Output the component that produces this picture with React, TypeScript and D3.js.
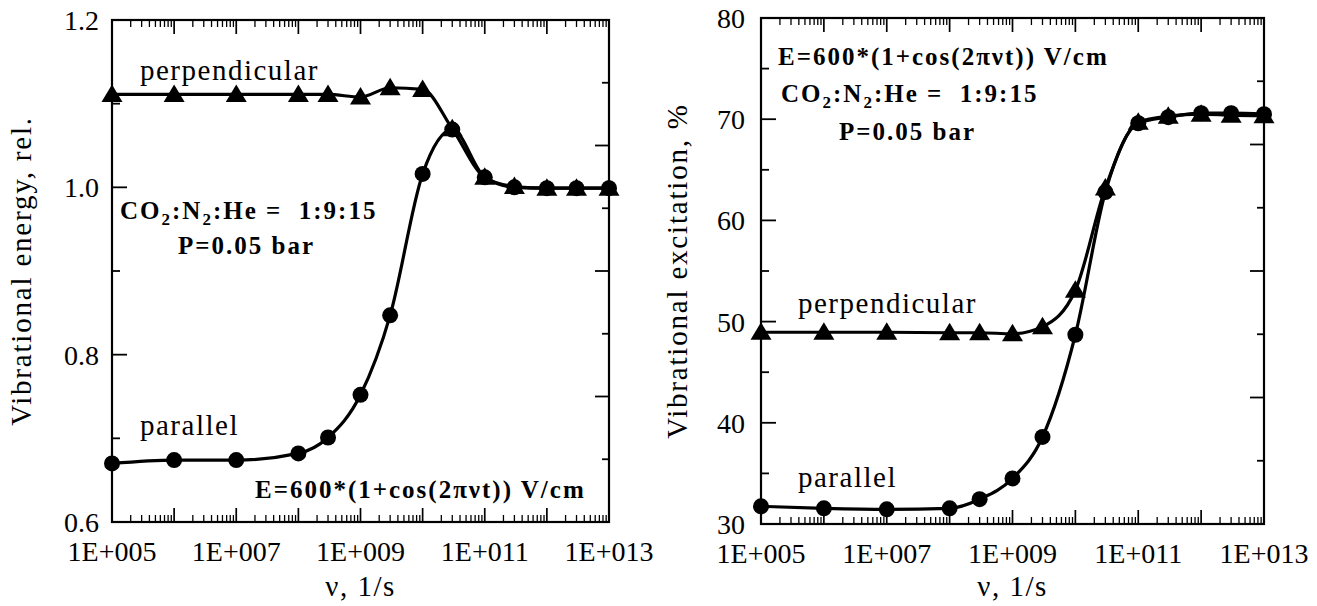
import React from "react";
import * as d3 from "d3";

// ---------- data ----------
const NU = [1e5, 1e6, 1e7, 1e8, 3e8, 1e9, 3e9, 1e10, 3e10, 1e11, 3e11, 1e12, 3e12, 1e13];

const ENERGY_PERPENDICULAR = [1.111, 1.111, 1.111, 1.111, 1.111, 1.108, 1.119, 1.117, 1.07, 1.012, 1.001, 0.999, 0.999, 0.999];
const ENERGY_PARALLEL = [0.67, 0.674, 0.674, 0.682, 0.701, 0.752, 0.847, 1.016, 1.069, 1.012, 1.0, 0.999, 0.999, 0.999];

const EXCITATION_PERPENDICULAR = [48.95, 48.95, 48.95, 48.9, 48.9, 48.8, 49.5, 53.1, 63.2, 69.7, 70.3, 70.5, 70.4, 70.35];
const EXCITATION_PARALLEL = [31.75, 31.55, 31.45, 31.55, 32.45, 34.5, 38.6, 48.7, 62.8, 69.6, 70.2, 70.6, 70.6, 70.5];

const X_TICK_VALUES = [1e5, 1e7, 1e9, 1e11, 1e13];
const X_TICK_LABELS = ["1E+005", "1E+007", "1E+009", "1E+011", "1E+013"];

const ENERGY_TICKS = [0.6, 0.8, 1.0, 1.2];
const ENERGY_TICK_LABELS = ["0.6", "0.8", "1.0", "1.2"];

const EXCITATION_TICKS = [30, 40, 50, 60, 70, 80];
const EXCITATION_TICK_LABELS = ["30", "40", "50", "60", "70", "80"];

const SERIF = "Liberation Serif";

type PanelProps = {
  left: number;
  right: number;
  top: number;
  bottom: number;
  yDomain: [number, number];
  yTicks: number[];
  yTickLabels: string[];
  yLabel: string;
  yLabelX: number;
  yTickGap: number;
  perp: number[];
  par: number[];
  circlesOnTop: boolean;
  children?: React.ReactNode;
};

function Panel(p: PanelProps) {
  const x = d3.scaleLog().domain([1e5, 1e13]).range([p.left, p.right]);
  const y = d3.scaleLinear().domain(p.yDomain).range([p.bottom, p.top]);

  const majors: number[] = [];
  const minors: number[] = [];
  for (let e = 5; e <= 13; e++) {
    majors.push(Math.pow(10, e));
    if (e < 13) for (let k = 2; k <= 9; k++) minors.push(k * Math.pow(10, e));
  }

  const yMinor: number[] = [];
  for (let i = 0; i < p.yTicks.length - 1; i++) yMinor.push((p.yTicks[i] + p.yTicks[i + 1]) / 2);

  const rightTicks: { v: number; long: boolean }[] = [];
  for (let i = 1; i < 8; i++) {
    rightTicks.push({ v: p.yDomain[1] - (i * (p.yDomain[1] - p.yDomain[0])) / 8, long: i % 2 === 0 });
  }

  const line = d3
    .line<[number, number]>()
    .x((d) => x(d[0]))
    .y((d) => y(d[1]))
    .curve(d3.curveMonotoneX);

  const perpPts: [number, number][] = NU.map((v, i) => [v, p.perp[i]]);
  const parPts: [number, number][] = NU.map((v, i) => [v, p.par[i]]);

  const tri = (cx: number, cy: number) =>
    `M${cx},${cy - 10}L${cx + 10.5},${cy + 7.5}L${cx - 10.5},${cy + 7.5}Z`;

  const triangles = perpPts.map((d, i) => (
    <path key={"t" + i} d={tri(x(d[0]), y(d[1]))} fill="#000" />
  ));
  const circles = parPts.map((d, i) => (
    <circle key={"c" + i} cx={x(d[0])} cy={y(d[1])} r={8} fill="#000" />
  ));

  const cy = (p.top + p.bottom) / 2;
  const cx = (p.left + p.right) / 2;

  return (
    <g>
      <rect
        x={p.left}
        y={p.top}
        width={p.right - p.left}
        height={p.bottom - p.top}
        fill="none"
        stroke="#000"
        strokeWidth={2.2}
      />
      {majors.map((v, i) => (
        <g key={"mx" + i}>
          <line x1={x(v)} x2={x(v)} y1={p.bottom} y2={p.bottom - 14} stroke="#000" strokeWidth={1.7} />
          <line x1={x(v)} x2={x(v)} y1={p.top} y2={p.top + 14} stroke="#000" strokeWidth={1.7} />
        </g>
      ))}
      {minors.map((v, i) => (
        <g key={"nx" + i}>
          <line x1={x(v)} x2={x(v)} y1={p.bottom} y2={p.bottom - 7} stroke="#000" strokeWidth={1.3} />
          <line x1={x(v)} x2={x(v)} y1={p.top} y2={p.top + 7} stroke="#000" strokeWidth={1.3} />
        </g>
      ))}
      {p.yTicks.map((v, i) => (
        <line key={"my" + i} x1={p.left} x2={p.left + 15} y1={y(v)} y2={y(v)} stroke="#000" strokeWidth={1.8} />
      ))}
      {yMinor.map((v, i) => (
        <line key={"ny" + i} x1={p.left} x2={p.left + 8} y1={y(v)} y2={y(v)} stroke="#000" strokeWidth={1.8} />
      ))}
      {rightTicks.map((t, i) => (
        <line
          key={"ry" + i}
          x1={p.right}
          x2={p.right - (t.long ? 14 : 7)}
          y1={y(t.v)}
          y2={y(t.v)}
          stroke="#000"
          strokeWidth={1.8}
        />
      ))}
      <g fontFamily={SERIF} fontSize={28} fill="#000">
        {X_TICK_VALUES.map((v, i) => (
          <text key={"xl" + i} x={x(v)} y={p.bottom + 39} textAnchor="middle">
            {X_TICK_LABELS[i]}
          </text>
        ))}
        {p.yTicks.map((v, i) => (
          <text key={"yl" + i} x={p.left - p.yTickGap} y={y(v) + 10} textAnchor="end">
            {p.yTickLabels[i]}
          </text>
        ))}
      </g>
      <text x={cx} y={596} textAnchor="middle" fontFamily={SERIF} fontSize={29} letterSpacing={1.5}>
        ν, 1/s
      </text>
      <text
        transform={`translate(${p.yLabelX},${cy}) rotate(-90)`}
        textAnchor="middle"
        fontFamily={SERIF}
        fontSize={29}
        letterSpacing={1.8}
      >
        {p.yLabel}
      </text>
      <path d={line(perpPts) || ""} fill="none" stroke="#000" strokeWidth={3.2} />
      <path d={line(parPts) || ""} fill="none" stroke="#000" strokeWidth={3.2} />
      {p.circlesOnTop ? (
        <g>
          {triangles}
          {circles}
        </g>
      ) : (
        <g>
          {circles}
          {triangles}
        </g>
      )}
      {p.children}
    </g>
  );
}

function Bold({ x, y, children }: { x: number; y: number; children: React.ReactNode }) {
  return (
    <text x={x} y={y} fontFamily={SERIF} fontWeight={700} fontSize={25} letterSpacing={2} style={{ whiteSpace: "pre" }}>
      {children}
    </text>
  );
}

function Label({ x, y, children }: { x: number; y: number; children: React.ReactNode }) {
  return (
    <text x={x} y={y} fontFamily={SERIF} fontSize={29} letterSpacing={1.5}>
      {children}
    </text>
  );
}

function Mixture({ x, y }: { x: number; y: number }) {
  return (
    <Bold x={x} y={y}>
      CO<tspan fontSize={17} dy={6}>2</tspan>
      <tspan dy={-6}>:N</tspan>
      <tspan fontSize={17} dy={6}>2</tspan>
      <tspan dy={-6}>{":He =  1:9:15"}</tspan>
    </Bold>
  );
}

export default function App() {
  return (
    <svg
      width={1317}
      height={606}
      viewBox="0 0 1317 606"
      style={{ position: "absolute", left: 0, top: 0, background: "#fff" }}
    >
      <rect x={0} y={0} width={1317} height={606} fill="#fff" />
      <Panel
        left={112}
        right={609}
        top={20}
        bottom={522}
        yDomain={[0.6, 1.2]}
        yTicks={ENERGY_TICKS}
        yTickLabels={ENERGY_TICK_LABELS}
        yLabel="Vibrational energy, rel."
        yLabelX={31}
        yTickGap={13}
        perp={ENERGY_PERPENDICULAR}
        par={ENERGY_PARALLEL}
        circlesOnTop={false}
      >
        <Label x={140} y={80}>perpendicular</Label>
        <Label x={140} y={435}>parallel</Label>
        <Mixture x={120} y={219} />
        <Bold x={178} y={254}>P=0.05 bar</Bold>
        <Bold x={255} y={498}>E=600*(1+cos(2πνt)) V/cm</Bold>
      </Panel>
      <Panel
        left={761}
        right={1264}
        top={18}
        bottom={524}
        yDomain={[30, 80]}
        yTicks={EXCITATION_TICKS}
        yTickLabels={EXCITATION_TICK_LABELS}
        yLabel="Vibrational excitation, %"
        yLabelX={687}
        yTickGap={16}
        perp={EXCITATION_PERPENDICULAR}
        par={EXCITATION_PARALLEL}
        circlesOnTop={true}
      >
        <Bold x={778} y={65}>E=600*(1+cos(2πνt)) V/cm</Bold>
        <Mixture x={781} y={102} />
        <Bold x={839} y={140}>P=0.05 bar</Bold>
        <Label x={798} y={313}>perpendicular</Label>
        <Label x={798} y={487}>parallel</Label>
      </Panel>
    </svg>
  );
}
